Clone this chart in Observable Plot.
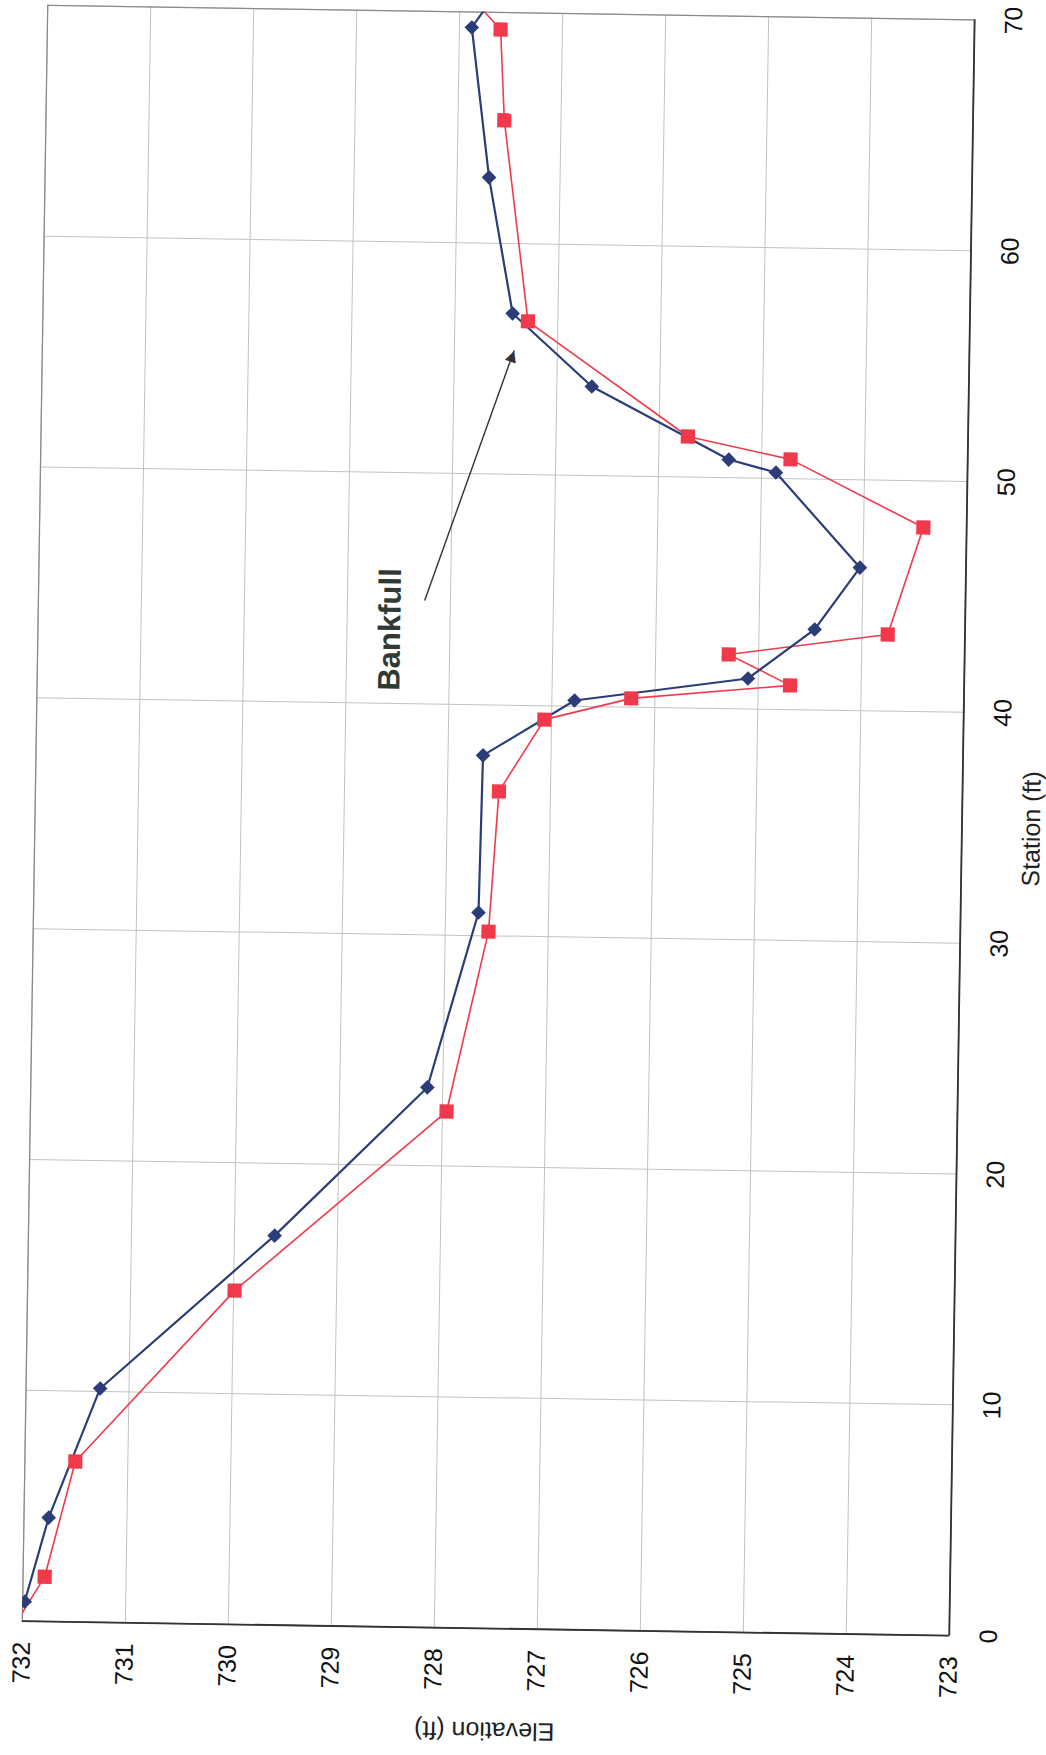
<!DOCTYPE html>
<html>
<head>
<meta charset="utf-8">
<script src="https://cdn.jsdelivr.net/npm/d3@7"></script>
<script src="https://cdn.jsdelivr.net/npm/@observablehq/plot@0.6"></script>
<style>
  html, body { margin: 0; padding: 0; background: #fff; overflow: hidden; }
  #chart { width: 1046px; height: 1755px; }
</style>
</head>
<body>
<div id="chart"></div>
<script>
// Survey 1 (blue diamonds): station (ft) and elevation (ft)
const blueStation = [0, 0.85, 4.5, 10.13, 16.87, 23.39, 31.0, 37.81, 40.25, 41.32, 43.49, 46.2, 50.26, 50.79, 53.86, 56.97, 62.85, 69.33, 70.3];
const blueElev    = [732.1, 731.98, 731.76, 731.28, 729.61, 728.15, 727.68, 727.66, 726.78, 725.10, 724.46, 724.03, 724.86, 725.32, 726.66, 727.44, 727.69, 727.88, 727.73];

// Survey 2 (red squares)
const redStation = [0, 1.94, 6.95, 14.46, 22.36, 30.18, 36.26, 39.4, 40.38, 41.05, 42.35, 43.32, 47.98, 50.84, 51.76, 56.64, 65.33, 69.26, 70.3];
const redElev    = [732.05, 731.79, 731.51, 729.99, 727.96, 727.58, 727.50, 727.07, 726.23, 724.69, 725.29, 723.75, 723.42, 724.72, 725.72, 727.29, 727.55, 727.60, 727.82];

// Axis ticks
const stationTicks = [0, 10, 20, 30, 40, 50, 60, 70];
const elevTicks = [732, 731, 730, 729, 728, 727, 726, 725, 724, 723];

// Axis titles (placed along the middle of each axis)
const stationTitle = [{text: "Station (ft)", station: 35}];
const elevTitle = [{text: "Elevation (ft)", elev: 727.5}];

// Annotation (data space)
const bankfullLabel = [{text: "Bankfull", station: 43.2, elev: 728.58}];
const bankfullArrow = [{station1: 44.48, elev1: 728.25, station2: 55.37, elev2: 727.42}];

const blue = blueStation.map((s, i) => ({station: s, elev: blueElev[i]}));
const red = redStation.map((s, i) => ({station: s, elev: redElev[i]}));
const inside = d => d.elev <= 732 && d.elev >= 723 && d.station >= 0 && d.station <= 70;

const BLUE = "#2b3d78";
const RED = "#f03a4c";

const chart = Plot.plot({
  width: 1046,
  height: 1755,
  marginLeft: 34.5,
  marginRight: 84.5,
  marginTop: 12,
  marginBottom: 127,
  x: {domain: [732, 723]},
  y: {domain: [0, 70]},
  style: {fontFamily: "'Liberation Sans', Arial, sans-serif", fontSize: "25px", color: "#111", background: "#fff"},
  marks: [
    Plot.gridX(elevTicks, {stroke: "#c2c2c2", strokeOpacity: 1, strokeWidth: 1}),
    Plot.gridY(stationTicks, {stroke: "#c2c2c2", strokeOpacity: 1, strokeWidth: 1}),
    Plot.frame({stroke: "#8a8a8a", strokeWidth: 1.3}),
    Plot.ruleX([723], {stroke: "#333", strokeWidth: 1.8}),
    Plot.ruleY([0], {stroke: "#333", strokeWidth: 1.8}),
    Plot.axisX(elevTicks, {anchor: "bottom", tickSize: 0, tickRotate: -90, textAnchor: "middle", lineAnchor: "middle", tickPadding: 41.5, label: null, color: "#111", fontSize: 25}),
    Plot.axisY(stationTicks, {anchor: "right", tickSize: 0, tickRotate: -90, textAnchor: "middle", lineAnchor: "middle", tickPadding: 39.5, label: null, color: "#111", fontSize: 25}),
    Plot.text(stationTitle, {y: "station", text: "text", frameAnchor: "right", textAnchor: "middle", lineAnchor: "middle", dx: 70, rotate: -90, fontSize: 25, fill: "#222"}),
    Plot.text(elevTitle, {x: "elev", text: "text", frameAnchor: "bottom", textAnchor: "middle", lineAnchor: "middle", dy: 102, rotate: 180, fontSize: 25, fill: "#222"}),
    Plot.line(red, {x: "elev", y: "station", stroke: RED, strokeWidth: 1.6, clip: true}),
    Plot.line(blue, {x: "elev", y: "station", stroke: BLUE, strokeWidth: 2.2, clip: true}),
    Plot.dot(red, {x: "elev", y: "station", symbol: "square", r: 8, fill: RED, filter: inside, clip: true}),
    Plot.dot(blue, {x: "elev", y: "station", symbol: "diamond2", r: 6.6, fill: BLUE, filter: inside, clip: true}),
    Plot.link(bankfullArrow, {x1: "elev1", y1: "station1", x2: "elev2", y2: "station2", stroke: "#333", strokeWidth: 1.4}),
    Plot.text(bankfullArrow, {x: "elev2", y: "station2", text: () => "\u25B2", rotate: 18.8, fontSize: 15, fill: "#333", dx: -1.6, dy: 5, fontFamily: "DejaVu Sans"}),
    Plot.text(bankfullLabel, {x: "elev", y: "station", text: "text", rotate: -90, fontSize: 31, fontWeight: "bold", fill: "#2e3a33"})
  ]
});

chart.style.transformOrigin = "498px 820px";
chart.style.transform = "rotate(0.9deg)";
document.getElementById("chart").appendChild(chart);
</script>
</body>
</html>
